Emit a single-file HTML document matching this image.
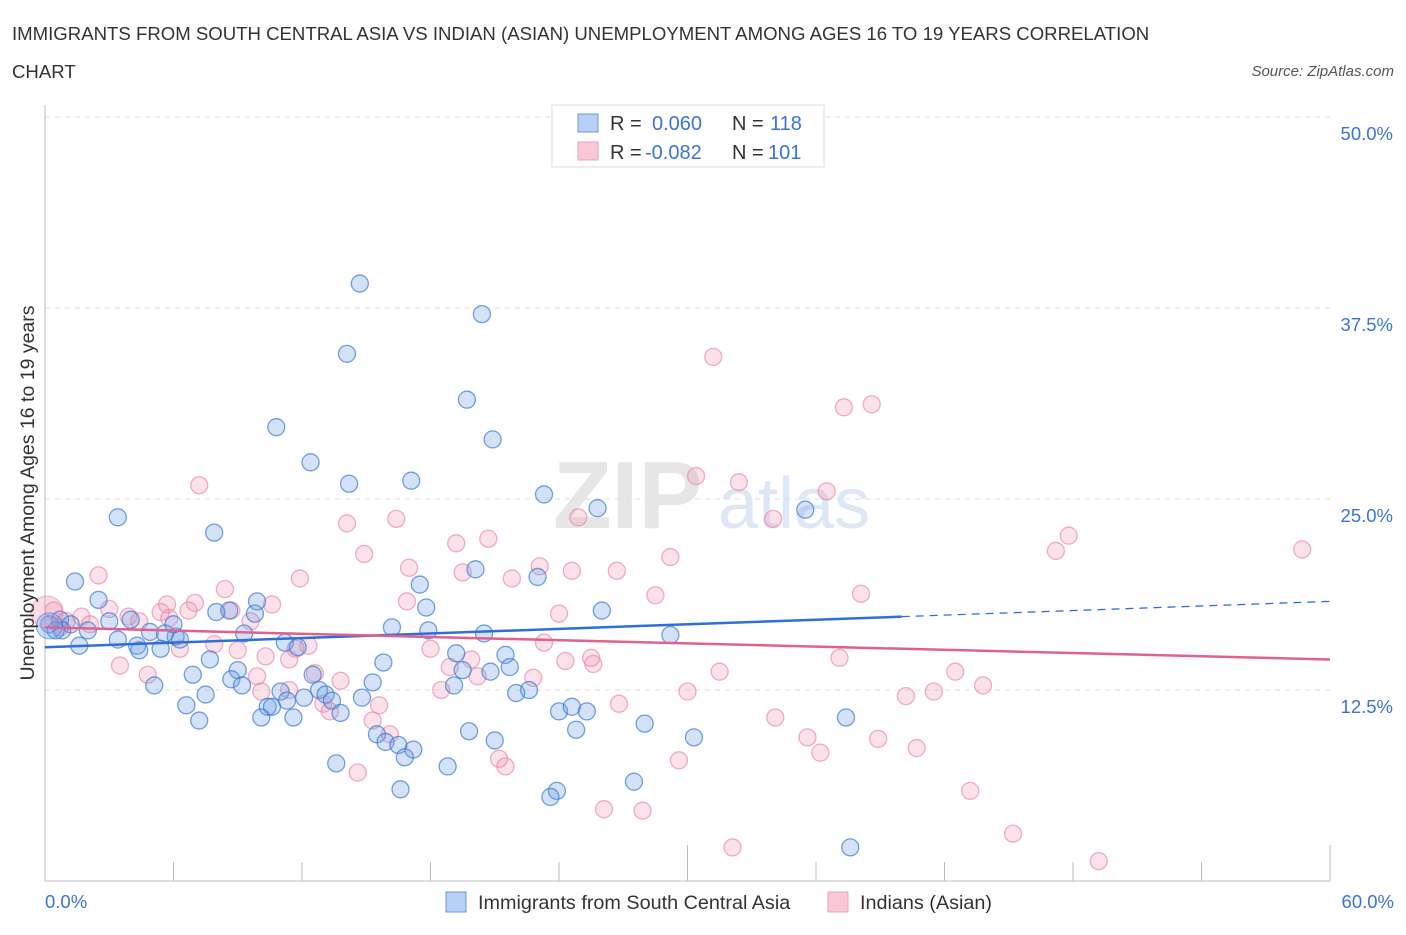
<!DOCTYPE html>
<html><head><meta charset="utf-8"><style>
body{margin:0;background:#fff;font-family:"Liberation Sans",sans-serif;}
svg text{font-family:"Liberation Sans",sans-serif;}
</style></head><body>
<svg id="chart" width="1406" height="930" xmlns="http://www.w3.org/2000/svg">
<text x="12" y="40" font-size="18.6" fill="#333">IMMIGRANTS FROM SOUTH CENTRAL ASIA VS INDIAN (ASIAN) UNEMPLOYMENT AMONG AGES 16 TO 19 YEARS CORRELATION</text>
<text x="12" y="78" font-size="18.6" fill="#333">CHART</text>
<text x="1394" y="76" font-size="15" fill="#555" text-anchor="end" font-style="italic">Source: ZipAtlas.com</text>
<text x="553" y="528" font-size="96" fill="#e6e6e6" font-family="Liberation Serif" font-weight="bold">ZIP</text>
<text x="718" y="528" font-size="72" fill="#dde8f6">atlas</text>
<g id="grid"></g>
<g id="axes"></g>
<g id="pts"></g>
<g id="trend"></g>
<text transform="translate(34,493) rotate(-90)" font-size="19.5" fill="#333" text-anchor="middle">Unemployment Among Ages 16 to 19 years</text>
<g>
<rect x="552" y="105" width="272" height="62" fill="#fff" stroke="#ddd"/>
<rect x="578" y="114" width="20" height="18" fill="#b8d0f4" stroke="#6a9ae0"/>
<text x="610" y="130" font-size="20" fill="#333">R =</text><text x="652" y="130" font-size="20" fill="#3a74d4">0.060</text>
<text x="732" y="130" font-size="20" fill="#333">N =</text><text x="770" y="130" font-size="20" fill="#3a74d4">118</text>
<rect x="578" y="142" width="20" height="18" fill="#f8c8d6" stroke="#f0a0b8"/>
<text x="610" y="159" font-size="20" fill="#333">R =</text><text x="645" y="159" font-size="20" fill="#3a74d4">-0.082</text>
<text x="732" y="159" font-size="20" fill="#333">N =</text><text x="768" y="159" font-size="20" fill="#3a74d4">101</text>
</g>
<g>
<rect x="446" y="892" width="20" height="20" fill="#b8d0f4" stroke="#6a9ae0"/>
<text x="478" y="909" font-size="19.8" fill="#333">Immigrants from South Central Asia</text>
<rect x="828" y="892" width="20" height="20" fill="#f8c8d6" stroke="#f0a0b8"/>
<text x="860" y="909" font-size="19.8" fill="#333">Indians (Asian)</text>
</g>
</svg>
<script>
const xTicks=[0,60];
const yTicks=[12.5,25,37.5,50];
const blueX=[31.9,35.9,14.7,20.4,14.1,19.7,10.8,20.9,12.4,14.2,17.1,23.3,25.8,35.5,3.4,7.9,20.1,23.0,1.4,17.5,2.5,9.9,26.0,8.0,17.8,8.6,9.8,4.0,3.0,0.7,0.2,1.2,2.0,4.9,6.1,5.6,6.3,6.0,16.2,17.9,20.5,29.2,9.3,11.2,3.4,4.3,1.6,0.8,0.5,5.4,4.4,11.8,19.2,21.5,15.8,7.7,21.7,20.8,9.0,6.9,12.5,19.5,5.1,8.7,9.2,11.0,7.5,11.3,12.1,12.8,13.1,13.4,14.8,15.3,22.6,22.0,19.1,13.8,6.6,7.2,10.4,10.6,10.1,11.6,24.0,24.6,25.3,28.0,24.8,15.5,19.8,15.9,16.5,17.2,21.0,30.3,37.4,13.6,18.8,16.8,16.6,27.5,23.9,23.6,37.6];
const blueY=[49.0,47.6,39.1,37.1,34.5,31.5,29.7,28.9,27.4,26.0,26.2,25.3,24.4,24.3,23.8,22.8,20.4,19.9,19.6,19.4,18.4,18.3,17.7,17.6,17.9,17.7,17.5,17.1,17.0,17.1,16.8,16.8,16.4,16.3,16.0,16.2,15.8,16.8,16.6,16.4,16.2,16.1,16.2,15.6,15.8,15.4,15.4,16.4,16.4,15.2,15.1,15.3,14.9,14.8,14.3,14.5,14.0,13.7,13.8,13.5,13.5,13.8,12.8,13.2,12.8,12.4,12.2,11.8,12.0,12.5,12.2,11.8,12.0,13.0,12.5,12.3,12.8,11.0,11.5,10.5,11.4,11.4,10.7,10.7,11.1,11.4,11.1,10.3,9.9,9.6,9.8,9.1,8.9,8.6,9.2,9.4,10.7,7.7,7.5,8.1,6.0,6.5,5.9,5.5,2.2];
const pinkX=[31.2,37.3,38.6,7.2,30.4,32.4,36.5,24.9,34.0,14.1,16.4,20.7,47.8,47.2,58.7,29.2,14.9,19.2,23.1,21.8,24.6,26.7,19.5,2.5,11.9,17.0,8.4,28.5,38.1,16.9,24.0,7.0,5.7,6.7,10.6,8.7,5.4,3.0,1.7,3.9,0.4,0.7,1.0,4.4,5.8,9.6,2.1,12.3,23.3,7.9,6.3,9.0,18.0,11.7,10.3,11.4,25.5,25.6,18.9,24.3,19.9,37.1,31.5,42.5,12.6,22.8,20.2,4.8,9.9,13.8,3.5,43.8,18.5,10.1,11.4,13.0,30.0,40.2,41.5,26.8,15.6,15.3,13.3,34.1,35.6,38.9,40.7,16.1,36.2,21.2,21.5,29.6,14.6,43.2,26.1,27.9,45.2,32.1,49.2];
const pinkY=[34.3,31.0,31.2,25.9,26.5,26.1,25.5,23.8,23.7,23.4,23.7,22.4,22.6,21.6,21.7,21.2,21.4,22.1,20.6,19.8,20.3,20.3,20.2,20.0,19.8,20.5,19.1,18.7,18.8,18.3,17.5,18.2,18.1,17.7,18.1,17.7,17.6,17.8,17.3,17.3,17.7,16.6,17.0,17.0,17.2,17.0,16.8,15.4,15.6,15.5,15.2,15.1,15.2,15.2,14.7,14.5,14.6,14.2,14.0,14.4,14.5,14.6,13.7,13.7,13.6,13.3,13.4,13.5,13.4,13.1,14.1,12.8,12.5,12.4,12.5,11.6,12.4,12.1,12.4,11.6,11.5,10.5,11.1,10.7,9.4,9.3,8.7,9.6,8.4,8.0,7.5,7.9,7.1,5.9,4.7,4.6,3.1,2.2,1.3];
const bigX=[0.1,0.2];
const bigY=[17.6,16.7];
const blueTrend=[15.3,18.3];
const pinkTrend=[16.6,14.5];
const X=v=>45+v*(1285/60);
const Y=v=>881-v*(764/50);
const NS="http://www.w3.org/2000/svg";
function mk(t,a,p){const e=document.createElementNS(NS,t);for(const k in a)e.setAttribute(k,a[k]);p.appendChild(e);return e;}
const grid=document.getElementById('grid'),axes=document.getElementById('axes'),pts=document.getElementById('pts'),tr=document.getElementById('trend');
yTicks.forEach(v=>{const l=mk('line',{x1:45,x2:1330,y1:Y(v),y2:Y(v),stroke:'#ddd','stroke-dasharray':'5,5'},grid);


const t=mk('text',{x:1393,y:Y(v)+23,'font-size':18.5,fill:'#3a74d4','text-anchor':'end'},axes);t.textContent=v.toFixed(1)+'%';

});
const ax=mk('line',{x1:45,x2:1330,y1:881,y2:881,stroke:'#bbb'},axes);


const ay=mk('line',{x1:45,x2:45,y1:105,y2:881,stroke:'#bbb'},axes);


for(let i=0;i<=10;i++){const tk=mk('line',{x1:X(i*6),x2:X(i*6),y1:881,y2:(i%5==0?845:862),stroke:'#bbb'},axes);

}
xTicks.forEach((v,i)=>{const t=mk('text',{x:i?1394:45,y:908,'font-size':18.5,fill:'#3a74d4','text-anchor':i?'end':'start'},axes);t.textContent=v.toFixed(1)+'%';

});
pinkX.forEach((v,i)=>{const c=mk('circle',{cx:X(v),cy:Y(pinkY[i]),r:8.5,fill:'rgba(240,140,170,0.25)',stroke:'rgba(235,130,165,0.65)','stroke-width':1.3},pts);

});
blueX.forEach((v,i)=>{const c=mk('circle',{cx:X(v),cy:Y(blueY[i]),r:8.5,fill:'rgba(110,160,230,0.3)',stroke:'rgba(60,120,215,0.7)','stroke-width':1.3},pts);

});
const b1=mk('circle',{cx:X(bigX[0]),cy:Y(bigY[0]),r:16,fill:'rgba(240,140,170,0.3)',stroke:'rgba(235,130,165,0.6)'},pts);


const b2=mk('circle',{cx:X(bigX[1]),cy:Y(bigY[1]),r:13,fill:'rgba(110,160,230,0.35)',stroke:'rgba(60,120,215,0.6)'},pts);


const bAt=x=>blueTrend[0]+(blueTrend[1]-blueTrend[0])*x/60;
const l1=mk('line',{x1:X(0),y1:Y(bAt(0)),x2:X(40),y2:Y(bAt(40)),stroke:'#2f6fd6','stroke-width':2.5},tr);


const l2=mk('line',{x1:X(40),y1:Y(bAt(40)),x2:X(60),y2:Y(bAt(60)),stroke:'#2f6fd6','stroke-width':1.3,'stroke-dasharray':'8,6'},tr);


const l3=mk('line',{x1:X(0),y1:Y(pinkTrend[0]),x2:X(60),y2:Y(pinkTrend[1]),stroke:'#e0608f','stroke-width':2.5},tr);


</script>
</body></html>
